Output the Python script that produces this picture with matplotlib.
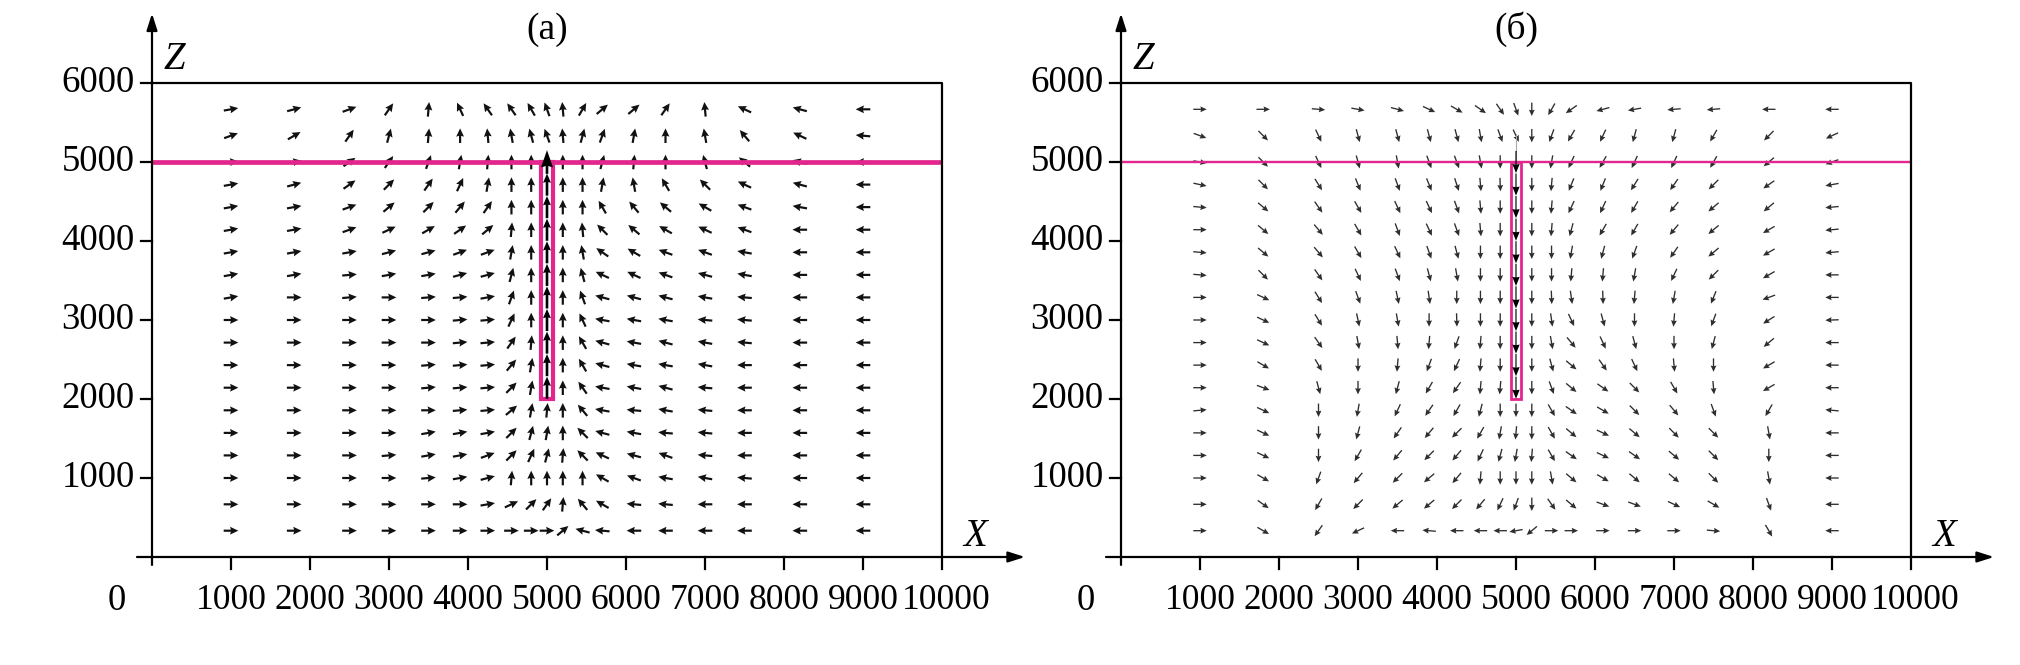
import numpy as np
import matplotlib.pyplot as plt
from matplotlib.patches import Rectangle

plt.rcParams['font.family'] = ['Liberation Serif', 'DejaVu Serif']

# grid of the field (columns in X, rows in Z from top to bottom)
x_cols = [1000, 1800, 2500, 3000, 3500, 3900, 4250, 4550, 4800, 5000,
          5200, 5450, 5700, 6100, 6500, 7000, 7500, 8200, 9000]
z_rows = [5667, 5333, 5000, 4714, 4429, 4143, 3857, 3571, 3286, 3000,
          2714, 2429, 2143, 1857, 1571, 1286, 1000, 667, 333]
nan = np.nan

# arrow directions in degrees (0 = +X, 90 = +Z), panel (a)
ang_a = [
    [10, 15, 20, 55, 85, 115, 125, 125, 120, 110, 95, 60, 40, 40, 55, 95, 155, 165, 180],
    [20, 30, 55, 75, 85, 90, 95, 100, 105, 110, 95, 75, 70, 80, 90, 100, 130, 155, 175],
    [5, 10, 35, 55, 70, 80, 85, 90, 90, nan, 90, 90, 75, 85, 90, 105, 140, 165, 180],
    [10, 15, 35, 45, 55, 65, 80, 90, 90, nan, 90, 90, 80, 100, 120, 135, 155, 165, 180],
    [10, 10, 20, 40, 45, 50, 55, 90, 90, nan, 90, 90, 120, 130, 140, 150, 160, 170, 180],
    [10, 10, 20, 25, 30, 35, 40, 85, 90, nan, 90, 95, 135, 140, 150, 155, 160, 180, 180],
    [10, 10, 10, 15, 15, 20, 20, 80, 90, nan, 90, 100, 145, 150, 160, 160, 170, 180, 180],
    [10, 10, 5, 10, 10, 15, 15, 75, 90, nan, 90, 105, 155, 155, 160, 165, 170, 180, 180],
    [10, 0, 5, 0, 5, 5, 10, 70, 90, nan, 90, 110, 165, 165, 165, 170, 175, 180, 180],
    [0, 0, 0, 0, 0, 5, 5, 65, 90, nan, 90, 115, 170, 170, 170, 175, 175, 180, 180],
    [0, 0, 0, 0, 0, 5, 5, 55, 85, nan, 90, 120, 165, 170, 165, 170, 175, 180, 180],
    [0, 0, 0, 0, 5, 5, 5, 50, 80, nan, 90, 120, 165, 170, 170, 170, 180, 180, 180],
    [0, 0, 0, 0, 5, 5, 5, 45, 80, nan, 90, 125, 170, 170, 165, 175, 180, 180, 180],
    [0, 0, 0, 0, 0, 5, 5, 40, 80, 85, 90, 130, 170, 175, 170, 175, 180, 180, 180],
    [0, 0, 0, 0, 10, 10, 10, 45, 75, 80, 90, 135, 165, 170, 175, 175, 180, 180, 180],
    [0, 0, 0, 5, 10, 10, 20, 45, 65, 75, 85, 135, 155, 165, 160, 175, 180, 180, 180],
    [0, 0, 0, 0, 5, 10, 15, 85, 90, 90, 90, 90, 150, 160, 170, 170, 175, 180, 180],
    [0, 0, 0, 0, 0, 0, 10, 25, 45, 55, 85, 130, 150, 175, 175, 180, 180, 180, 180],
    [0, 0, 0, 0, 0, 0, 0, 0, 0, 0, 40, 165, 175, 180, 180, 180, 180, 180, 180],
]

# panel (b)
ang_b = [
    [0, 0, -5, -10, -15, -25, -30, -35, -55, -70, -90, -120, -145, -165, -170, -175, -175, 180, 180],
    [-20, -45, -65, -75, -75, -75, -75, -80, -70, -65, -90, -110, -120, -115, -105, -105, -120, -135, -155],
    [-10, -45, -65, -75, -80, -70, -70, -80, -90, nan, -90, -100, -115, -120, -115, -115, -120, -140, -160],
    [-12, -45, -58, -68, -70, -68, -72, -85, -88, nan, -90, -95, -112, -112, -122, -125, -135, -145, -170],
    [-5, -40, -55, -60, -65, -65, -70, -85, -90, nan, -90, -95, -115, -115, -120, -130, -140, -140, -175],
    [0, -40, -50, -60, -70, -65, -70, -85, -90, nan, -90, -95, -105, -120, -120, -130, -140, -150, -175],
    [-5, -40, -50, -60, -65, -70, -75, -90, -90, nan, -90, -90, -100, -105, -110, -125, -140, -150, -175],
    [-5, -45, -55, -65, -70, -75, -80, -90, -90, nan, -90, -90, -95, -95, -100, -115, -135, -150, 180],
    [0, -25, -58, -70, -78, -82, -90, -90, -90, nan, -90, -88, -82, -88, -95, -100, -112, -160, 180],
    [0, -25, -58, -78, -80, -90, -88, -90, -90, nan, -90, -82, -65, -75, -90, -95, -110, -148, -178],
    [0, -25, -55, -80, -85, -95, -110, -95, -90, nan, -90, -80, -50, -65, -75, -90, -105, -140, 180],
    [0, -30, -60, -90, -95, -110, -115, -95, -90, nan, -90, -75, -40, -55, -65, -85, -90, -150, 180],
    [0, -20, -75, -90, -105, -120, -125, -95, -95, nan, -90, -70, -40, -35, -45, -60, -85, -150, 180],
    [5, -25, -90, -100, -115, -125, -120, -105, -90, -90, -90, -60, -35, -30, -45, -50, -70, -120, 175],
    [0, -25, -90, -105, -125, -130, -135, -120, -100, -95, -90, -60, -40, -25, -40, -45, -45, -80, 180],
    [0, -25, -90, -120, -130, -135, -130, -115, -105, -100, -95, -60, -35, -25, -35, -40, -45, -90, 180],
    [0, -30, -110, -130, -135, -140, -130, -95, -90, -90, -90, -80, -40, -30, -40, -40, -45, -80, 180],
    [0, -35, -120, -135, -140, -140, -135, -130, -115, -110, -90, -55, -40, -20, -20, -25, -30, -70, 180],
    [0, -30, -125, -155, 180, 175, 180, 180, 180, -170, -140, 0, 0, 0, 0, 0, -5, -60, 180],
]

# arrows inside the source column (x = 5000, z = 2000..5000)
src_z = [2143, 2429, 2714, 3000, 3286, 3571, 3857, 4143, 4429, 4714, 5000]

x_ticks = [1000, 2000, 3000, 4000, 5000, 6000, 7000, 8000, 9000, 10000]
z_ticks = [1000, 2000, 3000, 4000, 5000, 6000]

MAG = '#e3268e'
PX = 0.079  # pixels per data unit
XMIN, XMAX, YMIN, YMAX = -700, 11300, -800, 7000


def panel(x0_px, ang, title, src_dir, thick):
    left = (x0_px + XMIN * PX) / 2020
    width = (XMAX - XMIN) * PX / 2020
    top_px = 557 - YMAX * PX
    bottom_px = 557 - YMIN * PX
    ax = fig.add_axes([left, (665 - bottom_px) / 665, width, (bottom_px - top_px) / 665])
    ax.set_xlim(XMIN, XMAX)
    ax.set_ylim(YMIN, YMAX)
    ax.axis('off')

    X, Z = np.meshgrid(x_cols, z_rows)
    th = np.radians(np.array(ang, dtype=float))
    m = ~np.isnan(th)
    L = 185 if thick else 170
    U = L * np.cos(th)
    V = L * np.sin(th)
    if thick:
        ax.quiver(X[m], Z[m], U[m], V[m], angles='xy', scale_units='xy', scale=1,
                  pivot='middle', width=0.0023, headwidth=3.6, headlength=3.8,
                  headaxislength=3.4, color='#111111', zorder=2)
    else:
        ax.quiver(X[m], Z[m], U[m], V[m], angles='xy', scale_units='xy', scale=1,
                  pivot='middle', width=0.0014, headwidth=4.4, headlength=4.8,
                  headaxislength=4.3, color='#2e2e2e', zorder=2)

    # magenta boundary and source column
    ax.plot([0, 10000], [5000, 5000], color=MAG, lw=3.4 if thick else 1.7,
            solid_capstyle='butt', zorder=3)
    hw = 80 if thick else 65
    ax.add_patch(Rectangle((5000 - hw, 2000), 2 * hw, 3000, fill=True, fc='white',
                           ec=MAG, lw=3.0 if thick else 2.0, zorder=3))
    sz = np.array(src_z)
    n = len(sz)
    if thick:
        ax.quiver(np.full(n - 1, 5000), sz[:-1], np.zeros(n - 1), np.full(n - 1, 280),
                  angles='xy', scale_units='xy', scale=1, pivot='middle', width=0.0028,
                  headwidth=3.0, headlength=3.5, headaxislength=3.2, color='black', zorder=4)
        ax.quiver([5000], sz[-1:], [0], [300],
                  angles='xy', scale_units='xy', scale=1, pivot='middle', width=0.0028,
                  headwidth=4.5, headlength=6.5, headaxislength=6.0, color='black', zorder=4)
    else:
        ax.quiver(np.full(n, 5000), sz, np.zeros(n), src_dir * np.full(n, 280),
                  angles='xy', scale_units='xy', scale=1, pivot='middle', width=0.0012,
                  headwidth=6.5, headlength=8.0, headaxislength=7.5, color='black', zorder=4)
        ax.plot([5000, 5000], [5000, 5350], color='#aaaaaa', lw=0.8, zorder=2)

    # axes with arrows, box and ticks
    arrow = dict(arrowstyle='-|>,head_length=0.5,head_width=0.16', lw=1.6, color='black',
                 mutation_scale=20, shrinkA=0, shrinkB=0)
    ax.annotate('', xy=(0, 6880), xytext=(0, -100), arrowprops=arrow)
    ax.annotate('', xy=(11050, 0), xytext=(-190, 0), arrowprops=arrow)
    ax.plot([0, 10000, 10000], [6000, 6000, 0], color='black', lw=1.6, zorder=5)
    for xt in x_ticks:
        ax.plot([xt, xt], [0, -150], color='black', lw=1.6)
        ax.text(xt + (60 if xt == 10000 else 0), -550, str(xt), ha='center', va='center',
                fontsize=25.5)
    for zt in z_ticks:
        ax.plot([-140, 0], [zt, zt], color='black', lw=1.6)
        ax.text(-220, zt, str(zt), ha='right', va='center', fontsize=26.5)
    ax.text(-440, -550, '0', ha='center', va='center', fontsize=26.5)
    ax.text(280, 6300, 'Z', ha='center', va='center', fontsize=28, style='italic')
    ax.text(10420, 260, 'X', ha='center', va='center', fontsize=28, style='italic')
    ax.text(5000, 6680, title, ha='center', va='center', fontsize=27)
    return ax


fig = plt.figure(figsize=(20.2, 6.65), dpi=100)
panel(152, ang_a, '(a)', 1, True)
panel(1121, ang_b, '(б)', -1, False)
fig.savefig('out.png', dpi=100)
